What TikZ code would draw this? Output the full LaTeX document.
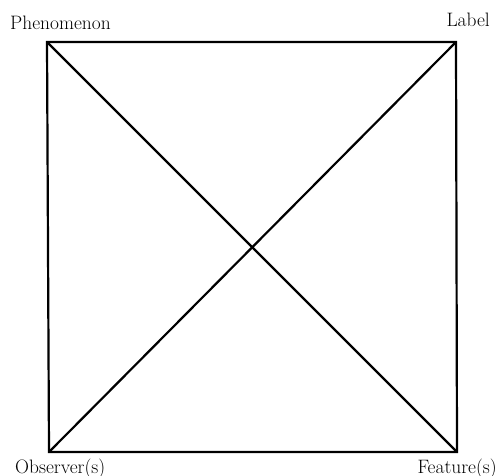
\documentclass[tikz,border=0pt]{standalone}
\usetikzlibrary{positioning}

\begin{document}
\begin{tikzpicture}[
        x=1bp, y=-1bp,
        edge/.style={line width=2.2bp, draw=black, line join=miter},
        corner/.style={font=\fontsize{19.5}{23}\selectfont, inner sep=0pt}
    ]
        \useasboundingbox (0,0) rectangle (497,476);
        \coordinate (phen) at (47,42);
        \coordinate (lab) at (456,42);
        \coordinate (obs) at (49,452);
        \coordinate (feat) at (457,452);

        \node[corner, anchor=base west] (phentext) at (10,30) {Phenomenon};
        \node[corner, anchor=base east] (labtext) at (490,27) {Label};
        \node[corner, anchor=base west] (obstext) at (15,473) {Observer(s)};
        \node[corner, anchor=base east] (feattext) at (497,473) {Feature(s)};

        \draw[edge] (phen) -- (lab) -- (feat) -- (obs) -- cycle;
        \draw[edge] (phen) -- (feat);
        \draw[edge] (obs) -- (lab);
    \end{tikzpicture}
\end{document}
